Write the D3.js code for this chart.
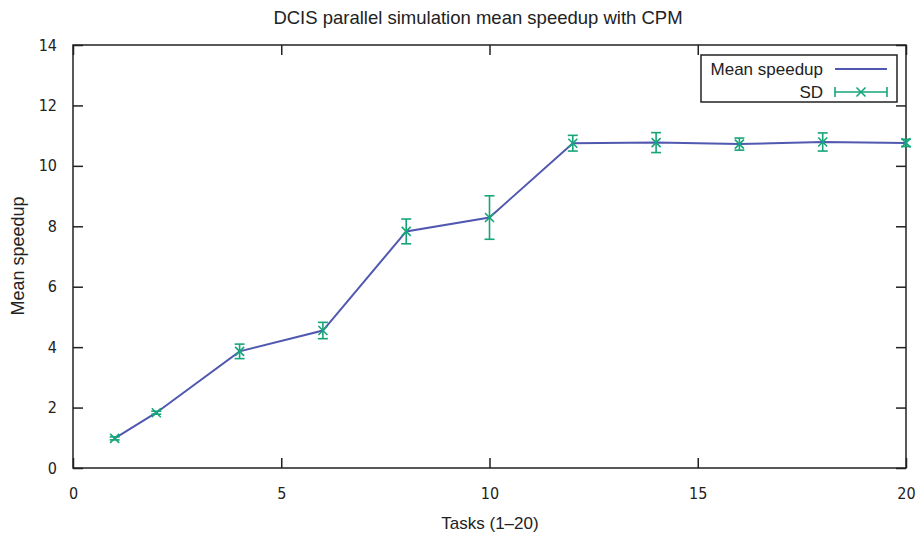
<!DOCTYPE html>
<html>
<head>
<meta charset="utf-8">
<script src="https://cdn.jsdelivr.net/npm/d3@7"></script>
<style>
  body { margin: 0; background: #fff; }
  text { font-family: "Liberation Sans", Arial, sans-serif; fill: #222; }
  .tick text { font-family: "DejaVu Sans Condensed", "DejaVu Sans", sans-serif; }
</style>
</head>
<body>
<div id="chart-container"></div>
<script>
// Data
var tasks = [1, 2, 4, 6, 8, 10, 12, 14, 16, 18, 20];
var meanSpeedup = [0.98, 1.83, 3.86, 4.55, 7.83, 8.29, 10.75, 10.77, 10.72, 10.79, 10.76];
var sdValues = [0.05, 0.05, 0.24, 0.27, 0.41, 0.72, 0.26, 0.33, 0.2, 0.3, 0.12];
var xTicks = [0, 5, 10, 15, 20];
var yTicks = [0, 2, 4, 6, 8, 10, 12, 14];

var blue = "#5058b0", green = "#16a57a";

var W = 919, H = 536;
var margin = { top: 45, right: 13, bottom: 68, left: 73 },
    width = W - margin.left - margin.right,
    height = H - margin.top - margin.bottom;

var svg = d3.select("#chart-container").append("svg")
    .attr("width", W).attr("height", H);

var g = svg.append("g")
    .attr("transform", "translate(" + margin.left + "," + margin.top + ")");

var x = d3.scaleLinear().domain([0, 20]).range([0, width]);
var y = d3.scaleLinear().domain([0, 14]).range([height, 0]);

// axes, ticks pointing inward and mirrored
function styleAxis(sel) {
    sel.select(".domain").remove();
    sel.selectAll(".tick line").attr("stroke", "#222").attr("stroke-width", 1.5);
    sel.selectAll(".tick text").attr("font-size", 16).attr("fill", "#222");
}
g.append("g").attr("transform", "translate(0," + height + ")")
    .call(d3.axisBottom(x).tickValues(xTicks).tickSizeInner(-10).tickPadding(20))
    .call(styleAxis);
g.append("g")
    .call(d3.axisTop(x).tickValues(xTicks).tickSizeInner(-10).tickFormat(""))
    .call(styleAxis);
g.append("g")
    .call(d3.axisLeft(y).tickValues(yTicks).tickSizeInner(-10).tickPadding(16))
    .call(styleAxis);
g.append("g").attr("transform", "translate(" + width + ",0)")
    .call(d3.axisRight(y).tickValues(yTicks).tickSizeInner(-10).tickFormat(""))
    .call(styleAxis);

g.append("rect")
    .attr("width", width).attr("height", height)
    .attr("fill", "none").attr("stroke", "#222").attr("stroke-width", 1.5);

var pts = tasks.map(function (t, i) { return { t: t, m: meanSpeedup[i], sd: sdValues[i] }; });

// mean line
g.append("path")
    .datum(pts)
    .attr("fill", "none")
    .attr("stroke", blue)
    .attr("stroke-width", 2)
    .attr("d", d3.line().x(function (d) { return x(d.t); }).y(function (d) { return y(d.m); }));

// error bars
var eb = g.selectAll(".eb").data(pts).enter().append("g").attr("class", "eb")
    .attr("stroke", green).attr("stroke-width", 1.6).attr("fill", "none");
eb.append("line")
    .attr("x1", function (d) { return x(d.t); }).attr("x2", function (d) { return x(d.t); })
    .attr("y1", function (d) { return y(d.m + d.sd); }).attr("y2", function (d) { return y(d.m - d.sd); });
eb.append("line")
    .attr("x1", function (d) { return x(d.t) - 5; }).attr("x2", function (d) { return x(d.t) + 5; })
    .attr("y1", function (d) { return y(d.m + d.sd); }).attr("y2", function (d) { return y(d.m + d.sd); });
eb.append("line")
    .attr("x1", function (d) { return x(d.t) - 5; }).attr("x2", function (d) { return x(d.t) + 5; })
    .attr("y1", function (d) { return y(d.m - d.sd); }).attr("y2", function (d) { return y(d.m - d.sd); });
eb.append("path")
    .attr("d", function (d) {
        var cx = x(d.t), cy = y(d.m), s = 4.5;
        return "M" + (cx - s) + "," + (cy - s) + "L" + (cx + s) + "," + (cy + s) +
               "M" + (cx - s) + "," + (cy + s) + "L" + (cx + s) + "," + (cy - s);
    });

// legend
var lg = svg.append("g");
lg.append("rect").attr("x", 701).attr("y", 55).attr("width", 196).attr("height", 47)
    .attr("fill", "#fff").attr("stroke", "#222").attr("stroke-width", 1.5);
lg.append("text").attr("x", 823).attr("y", 75).attr("text-anchor", "end")
    .attr("font-size", 17).text("Mean speedup");
lg.append("line").attr("x1", 835).attr("x2", 887).attr("y1", 69).attr("y2", 69)
    .attr("stroke", blue).attr("stroke-width", 2);
lg.append("text").attr("x", 823).attr("y", 98).attr("text-anchor", "end")
    .attr("font-family", "DejaVu Sans, sans-serif")
    .attr("font-size", 17).text("SD");
var ly = 92;
lg.append("g").attr("stroke", green).attr("stroke-width", 1.6).attr("fill", "none")
    .call(function (s) {
        s.append("line").attr("x1", 835).attr("x2", 887).attr("y1", ly).attr("y2", ly);
        s.append("line").attr("x1", 835).attr("x2", 835).attr("y1", ly - 5).attr("y2", ly + 5);
        s.append("line").attr("x1", 887).attr("x2", 887).attr("y1", ly - 5).attr("y2", ly + 5);
        s.append("path").attr("d", "M856.5," + (ly - 4.5) + "L865.5," + (ly + 4.5) +
            "M856.5," + (ly + 4.5) + "L865.5," + (ly - 4.5));
    });

// titles
svg.append("text").attr("x", 478).attr("y", 24).attr("text-anchor", "middle")
    .attr("font-size", 18.5).text("DCIS parallel simulation mean speedup with CPM");
svg.append("text").attr("x", 490).attr("y", 529).attr("text-anchor", "middle")
    .attr("font-size", 17).text("Tasks (1\u201320)");
svg.append("text").attr("transform", "translate(24,256) rotate(-90)")
    .attr("text-anchor", "middle").attr("font-size", 18).text("Mean speedup");
</script>
</body>
</html>
